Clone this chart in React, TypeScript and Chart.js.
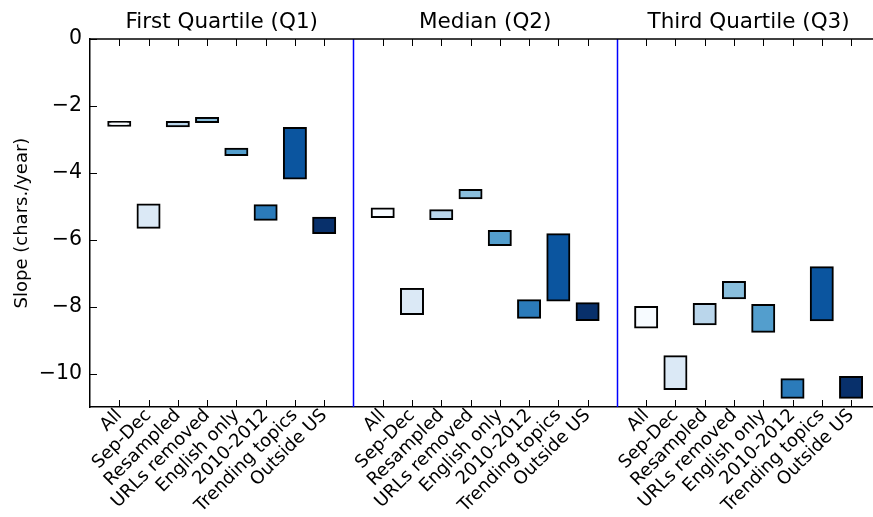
import React, { useEffect, useRef } from "react";
import { Chart, registerables } from "chart.js";

Chart.register(...registerables);

const categories = [
  "All",
  "Sep-Dec",
  "Resampled",
  "URLs removed",
  "English only",
  "2010-2012",
  "Trending topics",
  "Outside US",
];
const groupTitles = ["First Quartile (Q1)", "Median (Q2)", "Third Quartile (Q3)"];

const q1Low = [-2.59, -5.64, -2.61, -2.48, -3.47, -5.4, -4.17, -5.8];
const q1High = [-2.48, -4.95, -2.48, -2.36, -3.28, -4.97, -2.66, -5.34];
const q2Low = [-5.32, -8.22, -5.38, -4.76, -6.16, -8.33, -7.82, -8.4];
const q2High = [-5.07, -7.47, -5.12, -4.51, -5.74, -7.81, -5.84, -7.9];
const q3Low = [-8.62, -10.46, -8.53, -7.75, -8.75, -10.72, -8.41, -10.72];
const q3High = [-8.01, -9.48, -7.92, -7.26, -7.95, -10.17, -6.82, -10.1];

const barColors = ["#f7fbff", "#dbe9f6", "#bad6eb", "#89bedc", "#539ecd", "#2b7bba", "#0b559f", "#08306b"];
const yTicks = [0, -2, -4, -6, -8, -10];
const groupStarts = [1, 10, 19];
const separators = [9, 18];

const FONT = "'DejaVu Sans', 'Liberation Sans', sans-serif";

function positionsOf(start: number) {
  return categories.map((_, i) => start + i);
}

const allPositions = groupStarts.flatMap((s) => positionsOf(s));

function labelFor(v: number): string {
  for (const s of groupStarts) {
    const i = Math.round(v) - s;
    if (i >= 0 && i < categories.length) return categories[i];
  }
  return "";
}

function makeData(start: number, low: number[], high: number[]) {
  return categories.map((_, i) => ({ x: start + i, y: [low[i], high[i]] }));
}

const decorPlugin = {
  id: "decor",
  beforeDatasetsDraw(chart: any) {
    const { ctx, chartArea, scales } = chart;
    const xs = scales.x;
    ctx.save();
    ctx.strokeStyle = "#0000ff";
    ctx.lineWidth = 1.5;
    for (const s of separators) {
      const px = Math.round(xs.getPixelForValue(s)) + 0.5;
      ctx.beginPath();
      ctx.moveTo(px, chartArea.top);
      ctx.lineTo(px, chartArea.bottom);
      ctx.stroke();
    }
    ctx.restore();
  },
  afterDraw(chart: any) {
    const { ctx, chartArea, scales } = chart;
    const xs = scales.x;
    const ys = scales.y;
    ctx.save();
    ctx.strokeStyle = "#000";
    ctx.lineWidth = 1.5;
    ctx.beginPath();
    ctx.moveTo(chartArea.left, chartArea.top);
    ctx.lineTo(chartArea.right + 2, chartArea.top);
    ctx.stroke();
    ctx.lineWidth = 1;
    const tl = 7;
    for (const v of allPositions) {
      const px = Math.round(xs.getPixelForValue(v)) + 0.5;
      ctx.beginPath();
      ctx.moveTo(px, chartArea.bottom);
      ctx.lineTo(px, chartArea.bottom - tl);
      ctx.moveTo(px, chartArea.top);
      ctx.lineTo(px, chartArea.top + tl);
      ctx.stroke();
    }
    for (const v of yTicks) {
      const py = Math.round(ys.getPixelForValue(v)) + 0.5;
      ctx.beginPath();
      ctx.moveTo(chartArea.left, py);
      ctx.lineTo(chartArea.left + tl, py);
      ctx.stroke();
    }
    ctx.fillStyle = "#000";
    ctx.font = `21.5px ${FONT}`;
    ctx.textAlign = "center";
    ctx.textBaseline = "alphabetic";
    groupTitles.forEach((t, g) => {
      const center = groupStarts[g] + (categories.length - 1) / 2;
      ctx.fillText(t, xs.getPixelForValue(center), 28);
    });
    ctx.restore();
  },
};

export default function App() {
  const ref = useRef<HTMLCanvasElement | null>(null);
  useEffect(() => {
    if (!ref.current) return;
    const datasetBase = {
      backgroundColor: barColors,
      borderColor: "#000",
      borderWidth: 2,
      borderSkipped: false,
      barThickness: 22,
      inflateAmount: 1,
      grouped: false,
    };
    const chart = new Chart(ref.current, {
      type: "bar",
      data: {
        datasets: [
          { ...datasetBase, label: groupTitles[0], data: makeData(groupStarts[0], q1Low, q1High) },
          { ...datasetBase, label: groupTitles[1], data: makeData(groupStarts[1], q2Low, q2High) },
          { ...datasetBase, label: groupTitles[2], data: makeData(groupStarts[2], q3Low, q3High) },
        ] as any,
      },
      options: {
        animation: false,
        responsive: false,
        layout: { padding: { top: 39, left: 0, right: 0, bottom: 0 } },
        plugins: { legend: { display: false }, tooltip: { enabled: false }, title: { display: false } },
        scales: {
          x: {
            type: "linear",
            offset: false,
            min: 0,
            max: 26.75,
            grid: { display: false, drawTicks: false, offset: false },
            border: { display: true, color: "#000", width: 1.5 },
            afterBuildTicks: (scale: any) => {
              scale.ticks = allPositions.map((v) => ({ value: v }));
            },
            afterFit: (scale: any) => {
              scale.height = 110;
              scale.paddingLeft = 0;
              scale.paddingRight = 0;
            },
            ticks: {
              autoSkip: false,
              maxRotation: 45,
              minRotation: 45,
              padding: -2,
              color: "#000",
              font: { family: FONT, size: 18 },
              callback: (v: any) => labelFor(Number(v)),
            },
          },
          y: {
            type: "linear",
            min: -11,
            max: 0,
            grid: { display: false, drawTicks: false },
            border: { display: true, color: "#000", width: 1.5 },
            afterBuildTicks: (scale: any) => {
              scale.ticks = yTicks.map((v) => ({ value: v }));
            },
            afterFit: (scale: any) => {
              scale.width = 90;
            },
            ticks: {
              padding: 8,
              color: "#000",
              font: { family: FONT, size: 20.5 },
              callback: (v: any) => String(v).replace("-", "\u2212"),
            },
            title: {
              display: true,
              text: "Slope (chars./year)",
              color: "#000",
              font: { family: FONT, size: 18 },
              padding: { top: 12, bottom: 0 },
            },
          },
        },
      },
      plugins: [decorPlugin],
    });
    return () => chart.destroy();
  }, []);
  return (
    <div style={{ position: "fixed", left: 0, top: 0, width: 873, height: 517, background: "#fff" }}>
      <canvas ref={ref} width={873} height={517} style={{ display: "block" }} />
    </div>
  );
}
